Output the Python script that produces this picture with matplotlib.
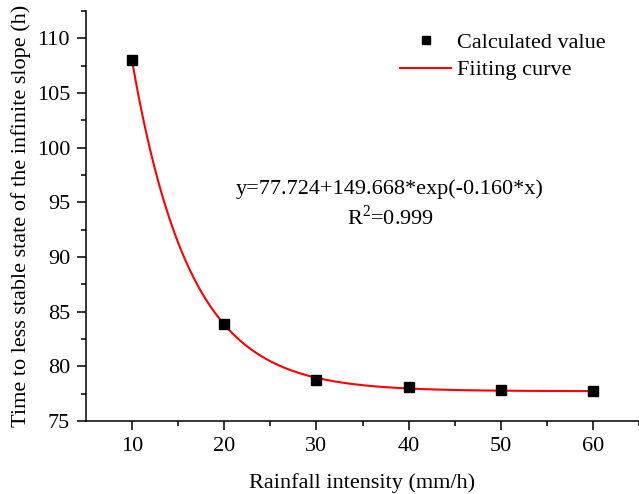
import matplotlib
matplotlib.use("Agg")
import matplotlib.pyplot as plt
import numpy as np

# ---------------------------------------------------------------------------
# Data
# ---------------------------------------------------------------------------
rain_intensity = [10, 20, 30, 40, 50, 60]
time_to_less_stable = [108.0, 83.9, 78.75, 78.1, 77.8, 77.7]

# fitted model parameters shown on the chart: y = a + b*exp(c*x)
fit_a = 77.724
fit_b = 149.668
fit_c = -0.160

x_ticks = [10, 20, 30, 40, 50, 60]
y_ticks = [75, 80, 85, 90, 95, 100, 105, 110]

plt.rcParams["font.family"] = ["Liberation Serif", "DejaVu Serif"]
plt.rcParams["mathtext.fontset"] = "custom"
plt.rcParams["mathtext.rm"] = "Liberation Serif"

fig = plt.figure(figsize=(6.39, 4.94), dpi=100)
ax = fig.add_axes([86 / 639, 73 / 494, 553 / 639, 410 / 494])

x_fit = np.linspace(min(rain_intensity), max(rain_intensity), 300)
y_fit = fit_a + fit_b * np.exp(fit_c * x_fit)

ax.plot(x_fit, y_fit, color="red", linewidth=1.5, label="Fiiting curve", zorder=2)
ax.plot(rain_intensity, time_to_less_stable, linestyle="none", marker="s",
        markersize=7, color="black", label="Calculated value", zorder=3)

ax.set_xlim(5, 65)
ax.set_ylim(75, 112.5)
ax.set_xticks(x_ticks)
ax.set_yticks(y_ticks)
ax.set_xticks([15, 25, 35, 45, 55, 65], minor=True)
ax.set_yticks([77.5, 82.5, 87.5, 92.5, 97.5, 102.5, 107.5, 112.5], minor=True)

for side in ("top", "right"):
    ax.spines[side].set_visible(False)
for side in ("left", "bottom"):
    ax.spines[side].set_linewidth(1.1)

ax.tick_params(which="major", direction="out", length=6.5, width=1.1,
               labelsize=16, pad=5)
ax.tick_params(which="minor", direction="out", length=3.5, width=1.1)

ax.set_xlabel("Rainfall intensity (mm/h)", fontsize=16, labelpad=12)
ax.set_ylabel("Time to less stable state of the infinite slope (h)",
              fontsize=16, labelpad=4)

ax.text(38.0, 96.2, "y=77.724+149.668*exp(-0.160*x)", fontsize=16,
        ha="center", va="center")
ax.text(38.0, 93.6, r"R$^2$=0.999", fontsize=16, ha="center", va="center")

handles, labels = ax.get_legend_handles_labels()
leg = ax.legend(handles[::-1], labels[::-1], loc="upper left",
                bbox_to_anchor=(400 / 639, (494 - 32) / 494),
                bbox_transform=fig.transFigure, frameon=False,
                fontsize=16, handlelength=2.3, handletextpad=0.25,
                labelspacing=0.33, borderpad=0, borderaxespad=0,
                markerscale=0.85)

fig.savefig("out.png", dpi=100)
